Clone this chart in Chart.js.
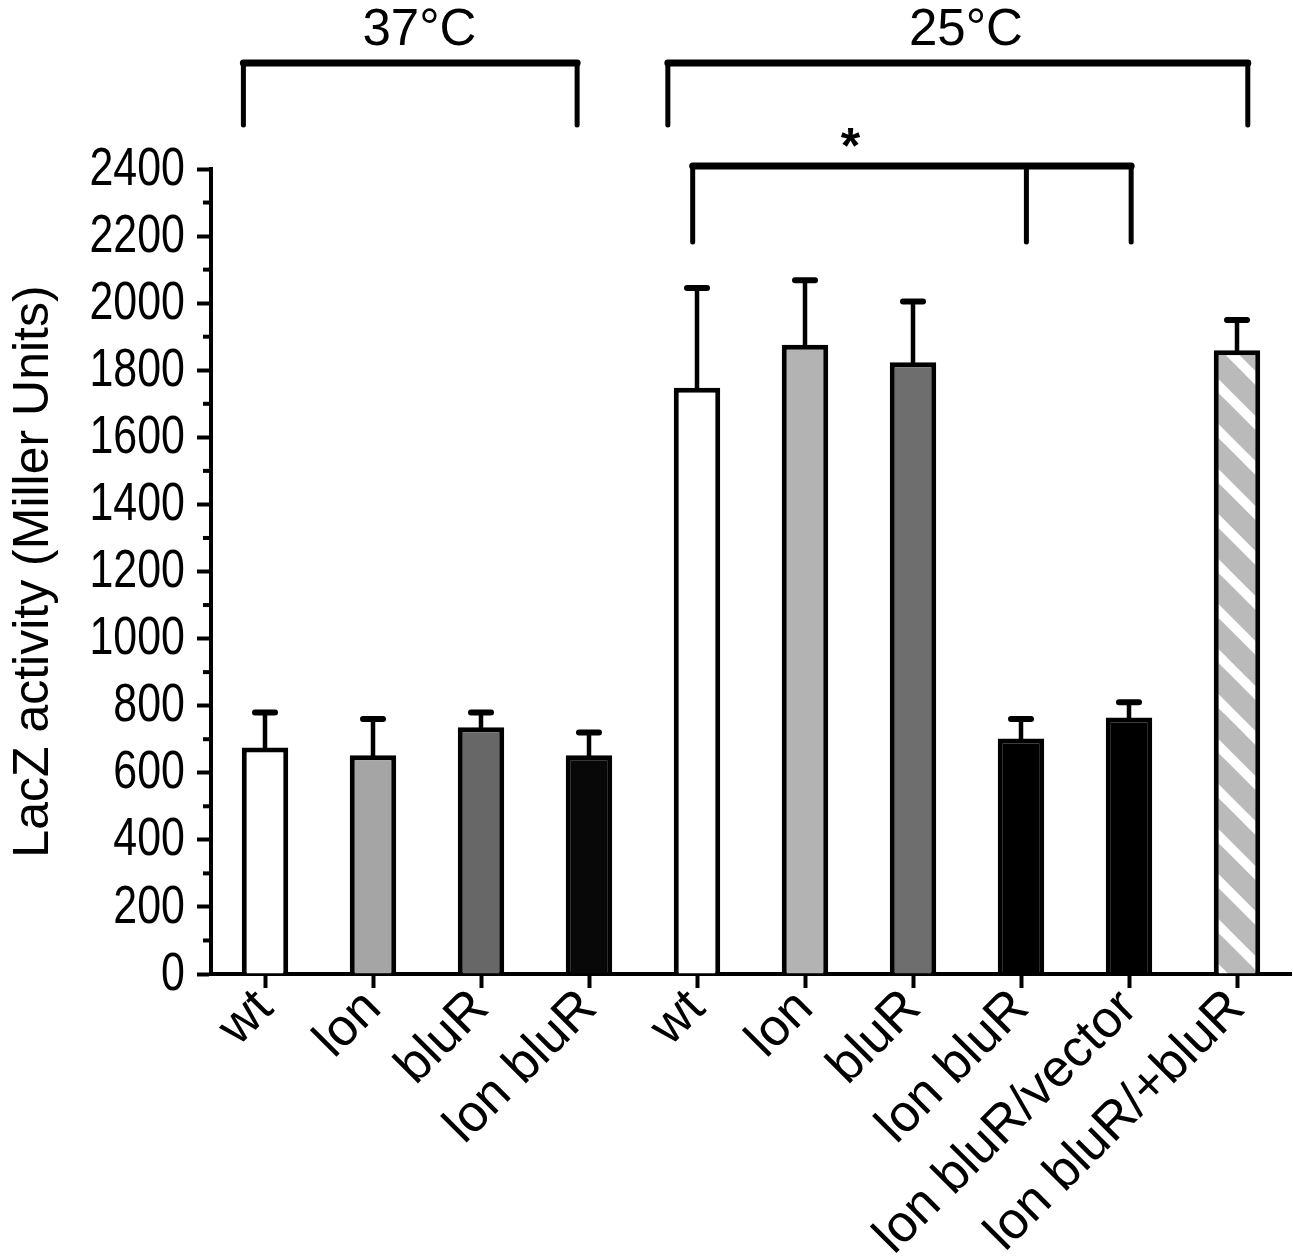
<!DOCTYPE html>
<html>
<head>
<meta charset="utf-8">
<script src="https://cdn.jsdelivr.net/npm/chart.js@4.4.1/dist/chart.umd.min.js"></script>
<style>
  html, body { margin: 0; padding: 0; background: #fff; }
  #wrap { width: 1293px; height: 1259px; position: relative; }
</style>
</head>
<body>
<div id="wrap"><canvas id="chart"></canvas></div>
<script>
// strains, grouped by growth temperature
const strains = ['wt', 'lon', 'bluR', 'lon bluR', 'wt', 'lon', 'bluR', 'lon bluR', 'lon bluR/vector', 'lon bluR/+bluR'];
// LacZ activity, Miller units
const lacZ = [675, 652, 736, 652, 1748, 1876, 1824, 702, 765, 1860];
// upper error (SEM)
const sem = [105, 108, 44, 68, 297, 192, 181, 58, 45, 90];
const yMin = 0;
const yMax = 2400;
const yStep = 200;

// temperature groups (category index span, label position)
const groups = [
  { label: '37°C', from: -0.2, to: 2.89, at: 1.43 },
  { label: '25°C', from: 3.73, to: 9.1, at: 6.49 }
];
// significance bracket legs (category index)
const sigLegs = [3.96, 7.05, 8.02];
const sigMark = 5.42;

const fills = ['#ffffff', '#a5a5a5', '#676767', '#080808', '#ffffff', '#b3b3b3', '#6e6e6e', '#000000', '#000000', null];

const FONT = "'Liberation Sans', Arial, sans-serif";

function stripes() {
  const p = 45;
  const c = document.createElement('canvas');
  c.width = p; c.height = p;
  const g = c.getContext('2d');
  g.fillStyle = '#ffffff';
  g.fillRect(0, 0, p, p);
  g.strokeStyle = '#bababa';
  g.lineWidth = 22;
  for (let k = -1; k <= 1; k++) {
    g.beginPath();
    g.moveTo(k * p - p, -p);
    g.lineTo(k * p + 2 * p, 2 * p);
    g.stroke();
  }
  return g.createPattern(c, 'repeat');
}

const extras = {
  id: 'extras',
  afterDatasetsDraw(chart) {
    const { ctx, chartArea, scales: { x, y } } = chart;
    const step = x.getPixelForValue(1) - x.getPixelForValue(0);
    const xAt = (f) => {
      const i = Math.floor(f);
      return x.getPixelForValue(i) + (f - i) * step;
    };
    ctx.save();
    ctx.strokeStyle = '#000';
    ctx.fillStyle = '#000';
    ctx.lineCap = 'round';

    // error bars (upper only)
    lacZ.forEach((v, i) => {
      const px = x.getPixelForValue(i);
      const base = y.getPixelForValue(v);
      const top = y.getPixelForValue(v + sem[i]);
      ctx.lineWidth = 4.5;
      ctx.beginPath();
      ctx.moveTo(px, base);
      ctx.lineTo(px, top);
      ctx.stroke();
      ctx.lineWidth = 6;
      ctx.beginPath();
      ctx.moveTo(px - 10, top);
      ctx.lineTo(px + 10, top);
      ctx.stroke();
    });

    // minor ticks on y axis
    ctx.lineCap = 'butt';
    ctx.lineWidth = 4;
    for (let v = yMin + yStep / 2; v < yMax; v += yStep) {
      const py = y.getPixelForValue(v);
      ctx.beginPath();
      ctx.moveTo(chartArea.left - 8, py);
      ctx.lineTo(chartArea.left, py);
      ctx.stroke();
    }

    // y tick labels, condensed like the original
    ctx.font = '53px ' + FONT;
    ctx.textAlign = 'right';
    ctx.textBaseline = 'middle';
    y.ticks.forEach(t => {
      const py = y.getPixelForValue(t.value);
      ctx.save();
      ctx.translate(chartArea.left - 26, py + 1);
      ctx.scale(0.81, 1);
      ctx.fillText(String(t.value), 0, 0);
      ctx.restore();
    });

    // temperature brackets
    const top = chartArea.top;
    ctx.lineCap = 'round';
    ctx.textAlign = 'center';
    ctx.textBaseline = 'alphabetic';
    groups.forEach(g => {
      const x1 = xAt(g.from), x2 = xAt(g.to);
      ctx.lineWidth = 5;
      ctx.beginPath();
      ctx.moveTo(x1, top - 44);
      ctx.lineTo(x1, top - 106);
      ctx.lineTo(x2, top - 106);
      ctx.lineTo(x2, top - 44);
      ctx.stroke();
      ctx.lineWidth = 7;
      ctx.beginPath();
      ctx.moveTo(x1, top - 106);
      ctx.lineTo(x2, top - 106);
      ctx.stroke();
      ctx.font = '51px ' + FONT;
      ctx.fillText(g.label, xAt(g.at), top - 124);
    });

    // significance bracket
    const xs = sigLegs.map(xAt);
    ctx.lineWidth = 5;
    xs.forEach(px => {
      ctx.beginPath();
      ctx.moveTo(px, top - 3);
      ctx.lineTo(px, top + 73);
      ctx.stroke();
    });
    ctx.lineWidth = 7;
    ctx.beginPath();
    ctx.moveTo(xs[0], top - 3);
    ctx.lineTo(xs[xs.length - 1], top - 3);
    ctx.stroke();
    ctx.font = 'bold 50px ' + FONT;
    ctx.fillText('*', xAt(sigMark), top - 6);
    ctx.restore();
  }
};

const ctx = document.getElementById('chart').getContext('2d');
const colors = fills.map(c => c || stripes());

new Chart(ctx, {
  type: 'bar',
  data: {
    labels: strains,
    datasets: [
      {
        label: 'LacZ activity',
        data: lacZ,
        backgroundColor: colors,
        borderColor: '#000',
        borderWidth: 5,
        barPercentage: 0.43,
        categoryPercentage: 1.0,
      },
    ],
  },
  options: {
    responsive: true,
    maintainAspectRatio: false,
    animation: false,
    layout: { padding: { top: 169, right: 2, left: 0, bottom: 0 } },
    plugins: { legend: { display: false }, tooltip: { enabled: false } },
    scales: {
      x: {
        grid: { display: true, drawOnChartArea: false, offset: false, tickLength: 14, tickWidth: 4, tickColor: '#000' },
        border: { display: true, color: '#000', width: 4 },
        ticks: { color: '#000', font: { family: FONT, size: 52 }, minRotation: 45, maxRotation: 45, padding: -10 },
        afterFit: (s) => { s.height = 285; },
      },
      y: {
        min: yMin,
        max: yMax,
        grid: { display: true, drawOnChartArea: false, tickLength: 14, tickWidth: 4, tickColor: '#000' },
        border: { display: true, color: '#000', width: 4 },
        ticks: { stepSize: yStep, display: false },
        title: { display: true, text: 'LacZ activity (Miller Units)', color: '#000', font: { family: FONT, size: 50 }, padding: { top: 4, bottom: 0 } },
        afterFit: (s) => { s.width = 211; },
      },
    },
  },
  plugins: [extras],
});
</script>
</body>
</html>
